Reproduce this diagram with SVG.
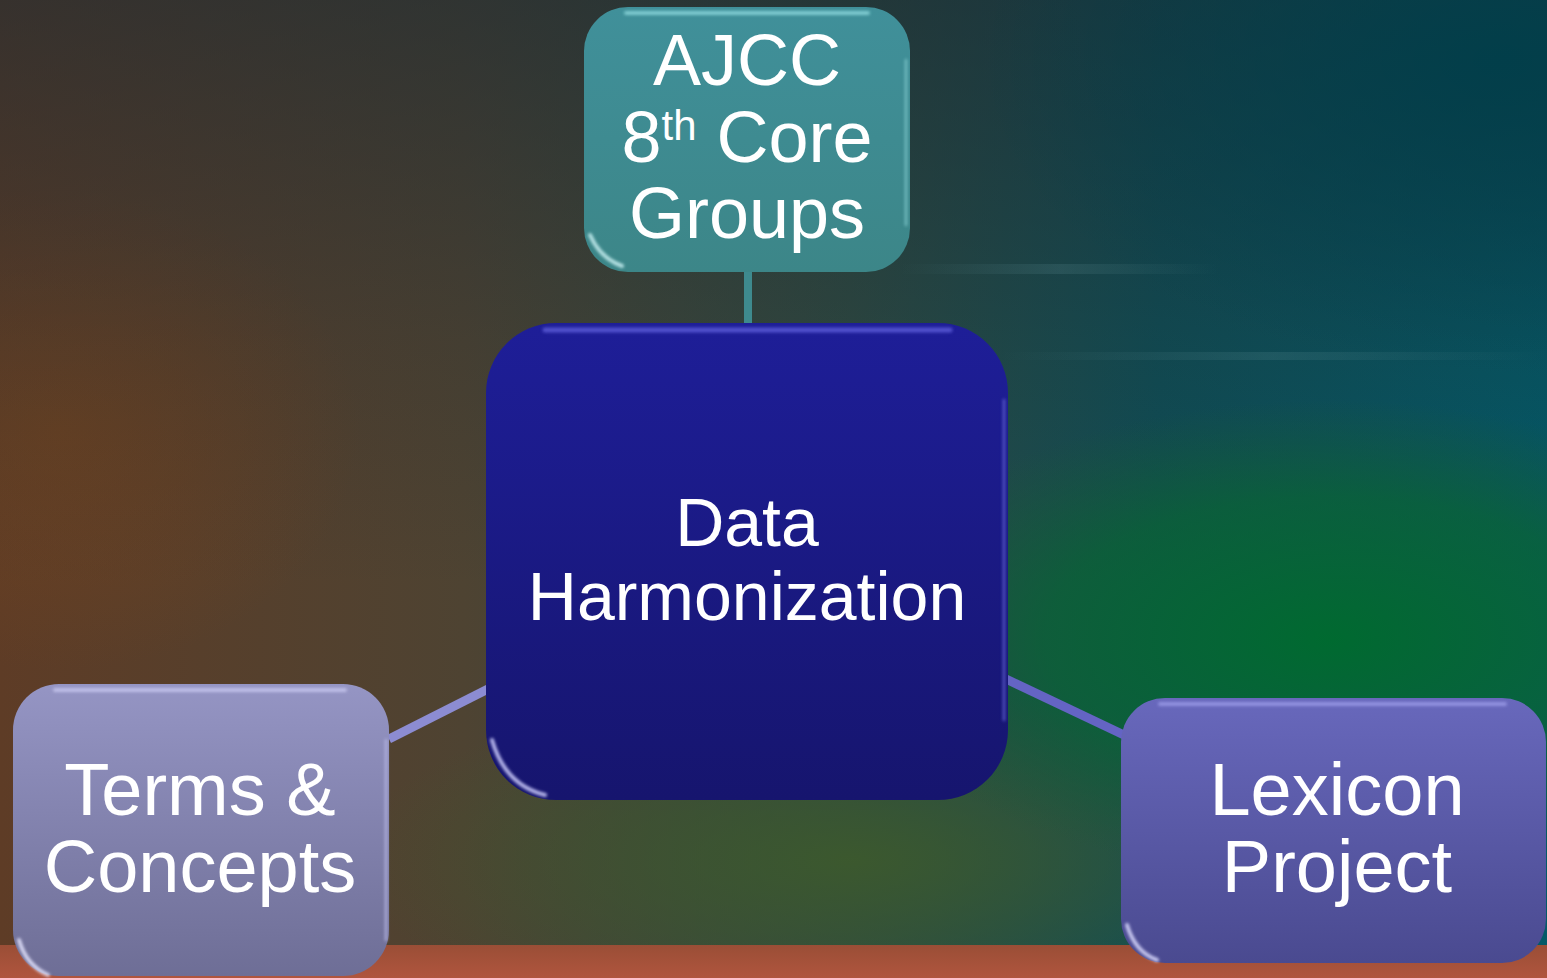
<svg xmlns="http://www.w3.org/2000/svg" width="1547" height="978" viewBox="0 0 1547 978">
<defs>
<style>
.lbl{font-family:"Liberation Sans",Arial,sans-serif;fill:#ffffff;text-anchor:middle}
.conn{fill:none;stroke-linecap:butt}
.hl{fill:none;stroke-linecap:round}
</style>
<linearGradient id="bgH" x1="0" y1="0" x2="1" y2="0">
<stop offset="0" stop-color="#5e3c26"/>
<stop offset="0.3" stop-color="#4e4332"/>
<stop offset="0.55" stop-color="#2e4a42"/>
<stop offset="0.75" stop-color="#0f4e56"/>
<stop offset="1" stop-color="#035a68"/>
</linearGradient>
<linearGradient id="bgTop" x1="0" y1="0" x2="0" y2="1">
<stop offset="0" stop-color="#1c2a32" stop-opacity="0.6"/>
<stop offset="0.35" stop-color="#1c2a32" stop-opacity="0.2"/>
<stop offset="0.6" stop-color="#1c2a32" stop-opacity="0"/>
</linearGradient>
<radialGradient id="tealTR" cx="1500" cy="60" r="520" gradientUnits="userSpaceOnUse" gradientTransform="translate(1500 60) scale(1 0.6) translate(-1500 -60)">
<stop offset="0" stop-color="#003e4a" stop-opacity="0.9"/>
<stop offset="1" stop-color="#003e4a" stop-opacity="0"/>
</radialGradient>
<radialGradient id="green" cx="1330" cy="640" r="480" gradientUnits="userSpaceOnUse" gradientTransform="translate(1330 640) scale(1 0.5) translate(-1330 -640)">
<stop offset="0" stop-color="#006a30" stop-opacity="1"/>
<stop offset="0.6" stop-color="#0a6432" stop-opacity="0.7"/>
<stop offset="1" stop-color="#1a5a30" stop-opacity="0"/>
</radialGradient>
<radialGradient id="olive" cx="850" cy="860" r="500" gradientUnits="userSpaceOnUse" gradientTransform="translate(850 860) scale(1 0.35) translate(-850 -860)">
<stop offset="0" stop-color="#3d5a2c" stop-opacity="0.9"/>
<stop offset="1" stop-color="#3d5a2c" stop-opacity="0"/>
</radialGradient>
<radialGradient id="brown" cx="60" cy="430" r="300" gradientUnits="userSpaceOnUse" gradientTransform="translate(60 430) scale(1 0.8) translate(-60 -430)">
<stop offset="0" stop-color="#6e4220" stop-opacity="0.8"/>
<stop offset="1" stop-color="#6e4220" stop-opacity="0"/>
</radialGradient>
<linearGradient id="streak" x1="0" y1="0" x2="1" y2="0">
<stop offset="0" stop-color="#6a9aa0" stop-opacity="0"/>
<stop offset="0.5" stop-color="#6a9aa0" stop-opacity="0.18"/>
<stop offset="1" stop-color="#6a9aa0" stop-opacity="0"/>
</linearGradient>
<linearGradient id="strip" x1="0" y1="0" x2="0" y2="1">
<stop offset="0" stop-color="#9a4e36"/>
<stop offset="1" stop-color="#b0553e"/>
</linearGradient>
<linearGradient id="gTop" x1="0" y1="0" x2="0" y2="1">
<stop offset="0" stop-color="#40909a"/>
<stop offset="1" stop-color="#3c8688"/>
</linearGradient>
<linearGradient id="gCenter" x1="0" y1="0" x2="0" y2="1">
<stop offset="0" stop-color="#1e1e98"/>
<stop offset="1" stop-color="#16156e"/>
</linearGradient>
<linearGradient id="gLeft" x1="0" y1="0" x2="0" y2="1">
<stop offset="0" stop-color="#9595c4"/>
<stop offset="1" stop-color="#6e6e96"/>
</linearGradient>
<linearGradient id="gRight" x1="0" y1="0" x2="0" y2="1">
<stop offset="0" stop-color="#6868bc"/>
<stop offset="1" stop-color="#4a4a90"/>
</linearGradient>
<filter id="soft" filterUnits="userSpaceOnUse" x="0" y="0" width="1547" height="978"><feGaussianBlur stdDeviation="1.5"/></filter>
</defs>

<g id="background">
<rect x="0" y="0" width="1547" height="978" fill="url(#bgH)"/>
<rect x="0" y="0" width="1547" height="978" fill="url(#brown)"/>
<rect x="0" y="0" width="1547" height="978" fill="url(#bgTop)"/>
<rect x="0" y="0" width="1547" height="978" fill="url(#tealTR)"/>
<rect x="0" y="0" width="1547" height="978" fill="url(#olive)"/>
<rect x="0" y="0" width="1547" height="978" fill="url(#green)"/>
<rect x="900" y="264" width="320" height="10" fill="url(#streak)"/>
<rect x="1000" y="352" width="547" height="8" fill="url(#streak)"/>
<rect x="0" y="945" width="1547" height="33" fill="url(#strip)"/>
</g>

<g id="connectors">
<line class="conn" x1="748" y1="270" x2="748" y2="326" stroke="#3e8a8e" stroke-width="8"/>
<line class="conn" x1="389" y1="739" x2="488" y2="689" stroke="#8c8cd2" stroke-width="9"/>
<line class="conn" x1="1006" y1="679" x2="1124" y2="735" stroke="#6464c4" stroke-width="9"/>
</g>

<g id="node-ajcc">
<rect x="584" y="7" width="326" height="265" rx="44" fill="url(#gTop)"/>
<g filter="url(#soft)" opacity="0.85">
<path class="hl" d="M626 13 H868" stroke="#8ad6da" stroke-width="4"/>
<path class="hl" d="M906 60 V225" stroke="#7cc4c8" stroke-width="2.5"/>
<path class="hl" d="M590 235 Q600 258 622 266" stroke="#c8f0f2" stroke-width="4"/>
</g>
<text class="lbl" x="747" y="85" font-size="72">AJCC</text>
<text class="lbl" x="747" y="162" font-size="72">8<tspan font-size="42" dy="-22">th</tspan><tspan dy="22"> Core</tspan></text>
<text class="lbl" x="747" y="238" font-size="72">Groups</text>
</g>

<g id="node-data">
<rect x="486" y="323" width="522" height="477" rx="70" fill="url(#gCenter)"/>
<g filter="url(#soft)" opacity="0.85">
<path class="hl" d="M545 330 H950" stroke="#5a5ad6" stroke-width="5"/>
<path class="hl" d="M1004 400 V720" stroke="#6060d0" stroke-width="2.5"/>
<path class="hl" d="M492 740 Q505 785 545 795" stroke="#d0d0ff" stroke-width="4"/>
</g>
<text class="lbl" x="747" y="546" font-size="68">Data</text>
<text class="lbl" x="747" y="620" font-size="68">Harmonization</text>
</g>

<g id="node-terms">
<rect x="13" y="684" width="376" height="292" rx="46" fill="url(#gLeft)"/>
<g filter="url(#soft)" opacity="0.85">
<path class="hl" d="M55 690 H345" stroke="#c6c6ee" stroke-width="4"/>
<path class="hl" d="M386 740 V940" stroke="#b6b6e2" stroke-width="2.5"/>
<path class="hl" d="M19 940 Q26 965 48 975" stroke="#e6e6ff" stroke-width="4"/>
</g>
<text class="lbl" x="200" y="815" font-size="74">Terms &amp;</text>
<text class="lbl" x="200" y="892" font-size="74">Concepts</text>
</g>

<g id="node-lexicon">
<rect x="1121" y="698" width="425" height="265" rx="44" fill="url(#gRight)"/>
<g filter="url(#soft)" opacity="0.85">
<path class="hl" d="M1160 704 H1505" stroke="#9a9ae6" stroke-width="4"/>
<path class="hl" d="M1127 925 Q1135 952 1157 960" stroke="#dcdcff" stroke-width="4"/>
</g>
<text class="lbl" x="1337" y="815" font-size="74">Lexicon</text>
<text class="lbl" x="1337" y="892" font-size="74">Project</text>
</g>
</svg>
